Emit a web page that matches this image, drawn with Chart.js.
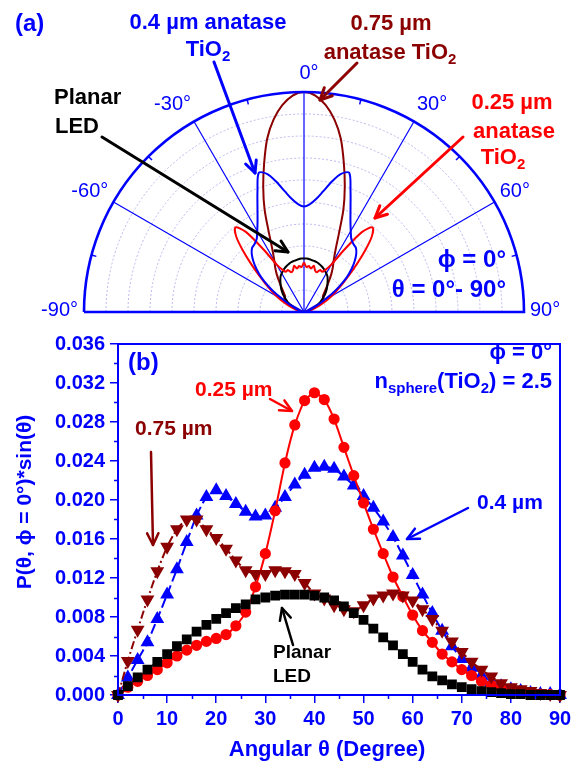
<!DOCTYPE html>
<html>
<head>
<meta charset="utf-8">
<script src="https://cdn.jsdelivr.net/npm/chart.js@4.4.0/dist/chart.umd.min.js"></script>
<style>
  html, body { margin: 0; padding: 0; background: #fff; }
  #wrap { position: relative; width: 583px; height: 763px; overflow: hidden; }
  canvas { position: absolute; left: 0; }
  #polar { top: 0; }
  #curve { top: 327px; }
</style>
</head>
<body>
<div id="wrap">
  <canvas id="polar" width="583" height="330"></canvas>
  <canvas id="curve" width="583" height="436"></canvas>
</div>
<script>
// ---- panel (b): P(theta, phi=0) * sin(theta) ----
const thetaDeg = [0,2,4,6,8,10,12,14,16,18,20,22,24,26,28,30,32,34,36,38,40,42,44,46,48,50,52,54,56,58,60,62,64,66,68,70,72,74,76,78,80,82,84,86,88,90];
const planarLed = [0,0.0009,0.0018,0.0026,0.0034,0.0042,0.0050,0.0057,0.0065,0.0072,0.0078,0.0084,0.0089,0.0093,0.0098,0.0100,0.0102,0.0103,0.0103,0.0103,0.0102,0.0100,0.0097,0.0091,0.0084,0.0077,0.0068,0.0059,0.0051,0.0042,0.0034,0.0026,0.0019,0.0015,0.0011,0.0008,0.0006,0.0004,0.0003,0.0002,0.0001,0.0001,0,0,0,0];
const tio2_025 = [0,0.0008,0.0014,0.0020,0.0026,0.0033,0.0040,0.0046,0.0051,0.0055,0.0058,0.0062,0.0071,0.0085,0.0111,0.0145,0.0189,0.0238,0.0277,0.0302,0.0310,0.0303,0.0283,0.0254,0.0225,0.0197,0.0170,0.0145,0.0121,0.0101,0.0082,0.0066,0.0054,0.0042,0.0034,0.0026,0.0020,0.0014,0.0010,0.0007,0.0005,0.0003,0.0002,0.0001,0.00005,0];
const tio2_04 = [0,0.0018,0.0036,0.0054,0.0078,0.0103,0.0129,0.0157,0.0184,0.0203,0.0210,0.0204,0.0196,0.0188,0.0183,0.0184,0.0192,0.0203,0.0216,0.0226,0.0233,0.0234,0.0232,0.0224,0.0215,0.0204,0.0192,0.0178,0.0162,0.0143,0.0123,0.0103,0.0084,0.0066,0.0050,0.0037,0.0028,0.0020,0.0013,0.0009,0.0006,0.0004,0.0002,0.0001,0.0001,0];
const tio2_075 = [0,0.0035,0.0067,0.0098,0.0127,0.0152,0.0170,0.0180,0.0180,0.0170,0.0161,0.0150,0.0138,0.0128,0.0124,0.0124,0.0128,0.0127,0.0124,0.0115,0.0104,0.0099,0.0092,0.0088,0.0086,0.0092,0.0099,0.0102,0.0104,0.0102,0.0097,0.0088,0.0078,0.0066,0.0055,0.0044,0.0034,0.0026,0.0019,0.0012,0.0008,0.0006,0.0004,0.0002,0.0001,0];
const xTickValues = [0,10,20,30,40,50,60,70,80,90];
const yTickValues = [0,0.004,0.008,0.012,0.016,0.020,0.024,0.028,0.032,0.036];

// ---- panel (a): normalized far-field pattern, symmetric about 0 deg ----
const polarAngle = [0,3,6,9,12,15,18,21,24,27,30,33,36,39,42,45,48,51,54,57,60,63,66,69,72,75,78,81,84,87,90];
const polarLed = [0.243,0.243,0.241,0.238,0.236,0.233,0.228,0.223,0.217,0.21,0.203,0.195,0.183,0.17,0.158,0.146,0.133,0.12,0.105,0.092,0.08,0.068,0.056,0.045,0.035,0.026,0.018,0.011,0.006,0.002,0];
const polar025 = [0.225,0.205,0.21,0.2,0.215,0.195,0.19,0.205,0.2,0.215,0.25,0.34,0.45,0.495,0.46,0.39,0.32,0.26,0.215,0.175,0.145,0.115,0.085,0.06,0.04,0.028,0.018,0.01,0.005,0.002,0];
const polar04 = [0.48,0.49,0.515,0.555,0.605,0.65,0.665,0.59,0.52,0.465,0.425,0.395,0.382,0.375,0.355,0.325,0.29,0.25,0.2,0.15,0.1,0.07,0.05,0.035,0.025,0.018,0.012,0.007,0.004,0.002,0];
const polar075 = [1.0,0.985,0.945,0.885,0.805,0.70,0.60,0.50,0.39,0.315,0.27,0.24,0.21,0.18,0.155,0.135,0.12,0.11,0.11,0.105,0.09,0.075,0.06,0.045,0.035,0.025,0.015,0.01,0.005,0.002,0];
const polarLabels = [-90,-60,-30,0,30,60,90];

const BLUE = '#0000ff', RED = '#ff0000', DARK = '#8b0000', BLACK = '#000000';
const FONT = '"Liberation Sans", Arial, Helvetica, sans-serif';
const rad = d => d * Math.PI / 180;

function richText(ctx, parts, x, y, align, size, color, weight) {
  weight = weight || 'bold';
  const main = `${weight} ${size}px ${FONT}`, sub = `${weight} ${Math.round(size * 0.68)}px ${FONT}`;
  let w = 0;
  parts.forEach(([t, s]) => { ctx.font = s ? sub : main; w += ctx.measureText(t).width; });
  let sx = align === 'center' ? x - w / 2 : align === 'right' ? x - w : x;
  ctx.fillStyle = color; ctx.textAlign = 'left'; ctx.textBaseline = 'middle';
  parts.forEach(([t, s]) => {
    ctx.font = s ? sub : main;
    ctx.fillText(t, sx, s ? y + size * 0.32 : y);
    sx += ctx.measureText(t).width;
  });
}

function arrow(ctx, x1, y1, x2, y2, color, w) {
  const a = Math.atan2(y2 - y1, x2 - x1), h = 13, sp = 0.45;
  ctx.save();
  ctx.strokeStyle = color; ctx.lineWidth = w; ctx.lineCap = 'round'; ctx.lineJoin = 'round';
  ctx.beginPath(); ctx.moveTo(x1, y1); ctx.lineTo(x2, y2); ctx.stroke();
  ctx.beginPath();
  ctx.moveTo(x2 - h * Math.cos(a - sp), y2 - h * Math.sin(a - sp));
  ctx.lineTo(x2, y2);
  ctx.lineTo(x2 - h * Math.cos(a + sp), y2 - h * Math.sin(a + sp));
  ctx.stroke();
  ctx.restore();
}

// mirror the 0..90 pattern onto -90..90 and convert to x/y of the half disc
function polarPoints(r) {
  const pts = [];
  for (let i = polarAngle.length - 1; i >= 0; i--) {
    const t = rad(polarAngle[i]);
    pts.push({ x: -r[i] * Math.sin(t), y: r[i] * Math.cos(t) });
  }
  for (let i = 1; i < polarAngle.length; i++) {
    const t = rad(polarAngle[i]);
    pts.push({ x: r[i] * Math.sin(t), y: r[i] * Math.cos(t) });
  }
  return pts;
}

const polarGrid = {
  id: 'polarGrid',
  beforeDatasetsDraw(chart) {
    const { ctx, scales: { x, y } } = chart;
    const cx = x.getPixelForValue(0), cy = y.getPixelForValue(0);
    const R = x.getPixelForValue(1) - cx;
    ctx.save();
    ctx.strokeStyle = '#b8b8ee'; ctx.lineWidth = 1; ctx.setLineDash([2, 2]);
    for (let k = 1; k < 10; k++) {
      ctx.beginPath(); ctx.arc(cx, cy, R * k / 10, Math.PI, 2 * Math.PI); ctx.stroke();
    }
    ctx.setLineDash([]);
    ctx.strokeStyle = BLUE; ctx.lineWidth = 1.2;
    polarLabels.forEach(a => {
      if (Math.abs(a) === 90) return;
      const t = rad(a);
      ctx.beginPath(); ctx.moveTo(cx, cy);
      ctx.lineTo(cx + R * Math.sin(t), cy - R * Math.cos(t)); ctx.stroke();
    });
    ctx.restore();
  },
  afterDatasetsDraw(chart) {
    const { ctx, scales: { x, y } } = chart;
    const cx = x.getPixelForValue(0), cy = y.getPixelForValue(0);
    const R = x.getPixelForValue(1) - cx;
    ctx.save();
    ctx.strokeStyle = BLUE; ctx.lineWidth = 2.6;
    ctx.beginPath();
    ctx.moveTo(cx - R, cy); ctx.arc(cx, cy, R, Math.PI, 2 * Math.PI); ctx.lineTo(cx - R, cy);
    ctx.stroke();
    ctx.lineWidth = 1.5;
    [-75, -45, -15, 15, 45, 75].forEach(a => {
      const t = rad(a);
      ctx.beginPath();
      ctx.moveTo(cx + R * Math.sin(t), cy - R * Math.cos(t));
      ctx.lineTo(cx + (R - 5) * Math.sin(t), cy - (R - 5) * Math.cos(t));
      ctx.stroke();
    });
    ctx.font = `20px ${FONT}`; ctx.fillStyle = BLUE; ctx.textBaseline = 'middle';
    polarLabels.forEach(a => {
      const t = rad(a);
      const lx = cx + (R + 6) * Math.sin(t), ly = cy - (R + 6) * Math.cos(t) - (2 + 11 * Math.cos(t));
      ctx.textAlign = a < 0 ? 'right' : a > 0 ? 'left' : 'center';
      ctx.fillText(a + '°', a === 0 ? lx + 5 : lx, ly);
    });
    ctx.restore();

    // annotations
    richText(ctx, [['(a)']], 15, 24, 'left', 24, BLUE);
    richText(ctx, [['0.4 µm anatase']], 208, 23, 'center', 22, BLUE);
    richText(ctx, [['TiO'], ['2', 1]], 208, 50, 'center', 22, BLUE);
    richText(ctx, [['0.75 µm']], 391, 24, 'center', 22, DARK);
    richText(ctx, [['anatase TiO'], ['2', 1]], 390, 53, 'center', 22, DARK);
    richText(ctx, [['0.25 µm']], 512, 103, 'center', 22, RED);
    richText(ctx, [['anatase']], 514, 132, 'center', 22, RED);
    richText(ctx, [['TiO'], ['2', 1]], 503, 158, 'center', 22, RED);
    richText(ctx, [['Planar']], 54, 98, 'left', 22, BLACK);
    richText(ctx, [['LED']], 55, 127, 'left', 22, BLACK);
    richText(ctx, [['ϕ = 0°']], 506, 260, 'right', 24, BLUE);
    richText(ctx, [['θ = 0°- 90°']], 506, 290, 'right', 24, BLUE);
    arrow(ctx, 214, 62, 255, 173, BLUE, 3);
    arrow(ctx, 357, 63, 320, 100, DARK, 3);
    arrow(ctx, 463, 137, 375, 218, RED, 3);
    arrow(ctx, 102, 137, 288, 252, BLACK, 3);
  }
};

new Chart(document.getElementById('polar'), {
  type: 'scatter',
  data: {
    datasets: [
      { data: polarPoints(polar04), borderColor: BLUE },
      { data: polarPoints(polar025), borderColor: RED },
      { data: polarPoints(polarLed), borderColor: BLACK },
      { data: polarPoints(polar075), borderColor: DARK }
    ].map(d => Object.assign(d, { showLine: true, pointRadius: 0, borderWidth: 2, tension: 0.3, clip: false }))
  },
  options: {
    responsive: false, animation: false,
    layout: { padding: { left: 84, right: 59, top: 92, bottom: 18 } },
    scales: {
      x: { type: 'linear', min: -1, max: 1, display: false },
      y: { type: 'linear', min: 0, max: 1, display: false }
    },
    plugins: { legend: { display: false }, tooltip: { enabled: false } }
  },
  plugins: [polarGrid]
});

// ---- panel (b) ----
const frameAndText = {
  id: 'frameAndText',
  afterDraw(chart) {
    const { ctx, chartArea: a, scales: { x, y } } = chart;
    ctx.save();
    ctx.strokeStyle = BLUE; ctx.lineWidth = 2;
    ctx.strokeRect(a.left, a.top, a.right - a.left, a.bottom - a.top);
    ctx.lineWidth = 1.5;
    for (let v = 0.002; v < 0.036; v += 0.004) {
      const py = Math.round(y.getPixelForValue(v)) + 0.5;
      ctx.beginPath(); ctx.moveTo(a.left, py); ctx.lineTo(a.left - 4, py); ctx.stroke();
    }
    for (let v = 5; v < 90; v += 10) {
      const px = Math.round(x.getPixelForValue(v)) + 0.5;
      ctx.beginPath(); ctx.moveTo(px, a.bottom); ctx.lineTo(px, a.bottom + 4); ctx.stroke();
    }
    ctx.restore();

    richText(ctx, [['Angular θ (Degree)']], 327, 423, 'center', 22, BLUE);
    ctx.save();
    ctx.translate(25, 175); ctx.rotate(-Math.PI / 2);
    richText(ctx, [['P(θ, ϕ = 0°)*sin(θ)']], 0, 0, 'center', 21, BLUE);
    ctx.restore();

    richText(ctx, [['(b)']], 128, 36, 'left', 24, BLUE);
    richText(ctx, [['ϕ = 0°']], 552, 26, 'right', 22, BLUE);
    richText(ctx, [['n'], ['sphere', 1], ['(TiO'], ['2', 1], [') = 2.5']], 552, 55, 'right', 22, BLUE);
    richText(ctx, [['0.25 µm']], 195, 63, 'left', 21, RED);
    richText(ctx, [['0.75 µm']], 135, 102, 'left', 21, DARK);
    richText(ctx, [['0.4 µm']], 477, 176, 'left', 21, BLUE);
    richText(ctx, [['Planar']], 273, 326, 'left', 19, BLACK);
    richText(ctx, [['LED']], 273, 350, 'left', 19, BLACK);
    arrow(ctx, 270, 72, 292, 84, RED, 2.5);
    arrow(ctx, 151, 125, 153, 218, DARK, 2.5);
    arrow(ctx, 468, 181, 407, 212, BLUE, 2.5);
    arrow(ctx, 293, 318, 282, 281, BLACK, 2.5);
  }
};

const series = (data, color, style, radius, dash, rotation) => ({
  data: thetaDeg.map((t, i) => ({ x: t, y: data[i] })),
  borderColor: color, backgroundColor: color,
  pointBackgroundColor: color, pointBorderColor: color,
  pointStyle: style, pointRadius: radius, pointRotation: rotation || 0,
  borderWidth: 2, borderDash: dash, tension: 0.2, clip: false
});

new Chart(document.getElementById('curve'), {
  type: 'line',
  data: {
    datasets: [
      series(planarLed, BLACK, 'rect', 5.5, [2, 3]),
      series(tio2_075, DARK, 'triangle', 6, [8, 3, 2, 3], 180),
      series(tio2_025, RED, 'circle', 4.6, []),
      series(tio2_04, BLUE, 'triangle', 6, [10, 4])
    ]
  },
  options: {
    responsive: false, animation: false,
    layout: { padding: { left: 0, right: 23, top: 12, bottom: 0 } },
    scales: {
      x: {
        type: 'linear', min: 0, max: 90,
        afterBuildTicks: s => { s.ticks = xTickValues.map(v => ({ value: v })); },
        afterFit: s => { s.height = 68; },
        grid: { drawOnChartArea: false, drawTicks: true, tickLength: 8, color: BLUE, lineWidth: 1.5 },
        border: { color: BLUE, width: 2 },
        ticks: { color: BLUE, font: { family: FONT, size: 20, weight: 'bold' }, padding: 4, maxRotation: 0 }
      },
      y: {
        type: 'linear', min: 0, max: 0.036,
        afterBuildTicks: s => { s.ticks = yTickValues.map(v => ({ value: v })); },
        afterFit: s => { s.width = 118; },
        grid: { drawOnChartArea: false, drawTicks: true, tickLength: 8, color: BLUE, lineWidth: 1.5 },
        border: { color: BLUE, width: 2 },
        ticks: { color: BLUE, font: { family: FONT, size: 20, weight: 'bold' }, padding: 5,
                 callback: v => Number(v).toFixed(3) }
      }
    },
    plugins: { legend: { display: false }, tooltip: { enabled: false } }
  },
  plugins: [frameAndText]
});
</script>
</body>
</html>
